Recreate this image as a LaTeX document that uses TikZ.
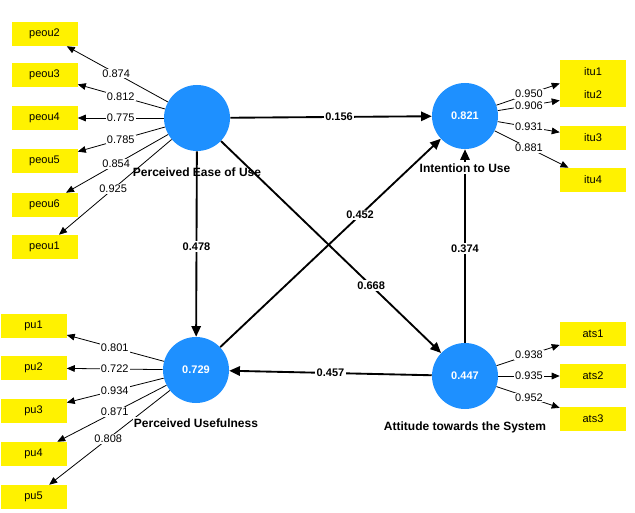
\documentclass[tikz,border=0pt]{standalone}
\usepackage{fontspec}
\setmainfont{Liberation Sans}
\usetikzlibrary{arrows.meta,calc}
\definecolor{lvblue}{RGB}{30,144,255}
\begin{document}
\begin{tikzpicture}[x=0.75pt,y=-0.75pt,
  lv/.style={circle,fill=lvblue,minimum size=49.5pt,inner sep=0pt,text=white,font=\fontsize{8.25}{9}\selectfont\bfseries},
  mv/.style={rectangle,fill=yellow,minimum width=49.5pt,minimum height=18pt,inner sep=0pt,font=\fontsize{8.25}{9}\selectfont},
  pathc/.style={line width=1.4pt,-{Triangle[length=8pt,width=7pt]}},
  load/.style={line width=0.6pt,-{Triangle[length=6pt,width=5pt]}},
  coef/.style={fill=white,inner sep=1pt,font=\fontsize{8.25}{9}\selectfont\bfseries},
  lval/.style={fill=white,inner sep=0.8pt,font=\fontsize{8.25}{9}\selectfont},
  lvname/.style={inner sep=1pt,font=\fontsize{9}{10}\selectfont\bfseries}]
\useasboundingbox (0,0) rectangle (635,513);

% latent variables
\node[lv] (peou) at (197,118) {};
\node[lv] (itu) at (465,116) {0.821};
\node[lv] (pu) at (196,370) {0.729};
\node[lv] (ats) at (465,376) {0.447};

% indicators
\node[mv] (peou2) at (44.5,34) {peou2};
\node[mv] (peou3) at (44.5,75) {peou3};
\node[mv] (peou4) at (44.5,118) {peou4};
\node[mv] (peou5) at (44.5,161) {peou5};
\node[mv] (peou6) at (44.5,205) {peou6};
\node[mv] (peou1) at (44.5,247) {peou1};

\node[mv] (itu1) at (593,72) {itu1};
\node[mv] (itu2) at (593,95) {itu2};
\node[mv] (itu3) at (593,138) {itu3};
\node[mv] (itu4) at (593,180) {itu4};

\node[mv] (pu1) at (33.5,326) {pu1};
\node[mv] (pu2) at (33.5,368) {pu2};
\node[mv] (pu3) at (33.5,411) {pu3};
\node[mv] (pu4) at (33.5,454) {pu4};
\node[mv] (pu5) at (33.5,497) {pu5};

\node[mv] (ats1) at (593,334) {ats1};
\node[mv] (ats2) at (593,376) {ats2};
\node[mv] (ats3) at (593,419) {ats3};

\node[lvname] (peoun) at ($(peou)+(0,54)$) {Perceived Ease of Use};

% loadings
\foreach \t/\v/\f in {peou2/0.874/0.53, peou3/0.812/0.5, peou4/0.775/0.5, peou5/0.785/0.5, peou6/0.854/0.53, peou1/0.925/0.55}{
  \draw[load] (peou) -- (\t);
}
\foreach \t/\v/\f in {pu1/0.801/0.5, pu2/0.722/0.5, pu3/0.934/0.5, pu4/0.871/0.5, pu5/0.808/0.54}{
  \draw[load] (pu) -- (\t);
}
\foreach \t/\v/\f in {itu1/0.950/0.5, itu2/0.906/0.5, itu3/0.931/0.5, itu4/0.881/0.5}{
  \draw[load] (itu) -- (\t);
}
\foreach \t/\v/\f in {ats1/0.938/0.5, ats2/0.935/0.5, ats3/0.952/0.5}{
  \draw[load] (ats) -- (\t);
}

% structural paths
\draw[pathc] (peou) -- (itu);
\draw[pathc] (peou) -- (pu);
\draw[pathc] (peou) -- (ats);
\draw[pathc] (pu) -- (itu);
\draw[pathc] (ats) -- (pu);
\draw[pathc] (ats) -- (itu);

% loading labels
\foreach \t/\v/\f in {peou2/0.874/0.53, peou3/0.812/0.5, peou4/0.775/0.5, peou5/0.785/0.5, peou6/0.854/0.53, peou1/0.925/0.55}{
  \node[lval] at ($(peou)!\f!(\t)$) {\v};
}
\foreach \t/\v/\f in {pu1/0.801/0.5, pu2/0.722/0.5, pu3/0.934/0.5, pu4/0.871/0.5, pu5/0.808/0.54}{
  \node[lval] at ($(pu)!\f!(\t)$) {\v};
}
\foreach \t/\v/\f in {itu1/0.950/0.5, itu2/0.906/0.5, itu3/0.931/0.5, itu4/0.881/0.5}{
  \node[lval] at ($(itu)!\f!(\t)$) {\v};
}
\foreach \t/\v/\f in {ats1/0.938/0.5, ats2/0.935/0.5, ats3/0.952/0.5}{
  \node[lval] at ($(ats)!\f!(\t)$) {\v};
}

% path coefficients
\node[coef] at ($(peou)!0.53!(itu)$) {0.156};
\node[coef] at ($(peou)!0.51!(pu)$) {0.478};
\node[coef] at ($(peou)!0.65!(ats)$) {0.668};
\node[coef] at ($(pu)!0.61!(itu)$) {0.452};
\node[coef] at ($(ats)!0.5!(pu)$) {0.457};
\node[coef] at ($(ats)!0.49!(itu)$) {0.374};

% latent names
\node[lvname,fill=white] (itun) at ($(itu)+(0,52)$) {Intention to Use};
\node[lvname,fill=white] (pun) at ($(pu)+(0,53)$) {Perceived Usefulness};
\node[lvname,fill=white] (atsn) at ($(ats)+(0,51)$) {Attitude towards the System};
\end{tikzpicture}
\end{document}
